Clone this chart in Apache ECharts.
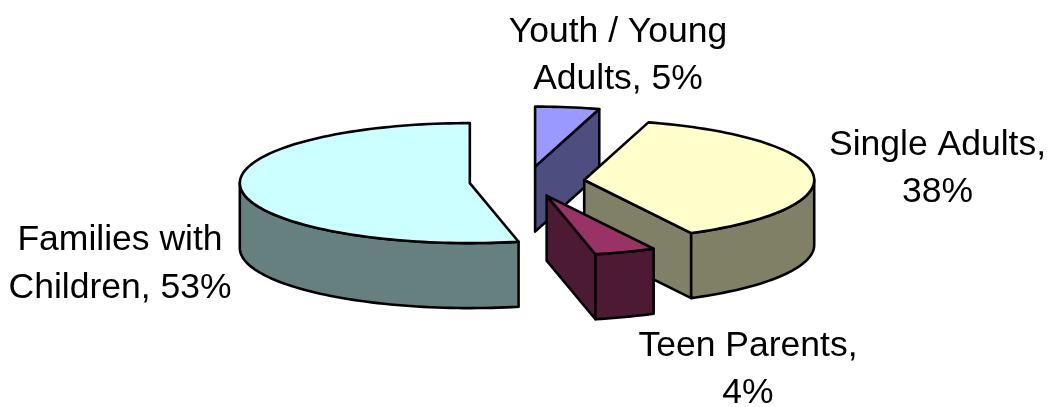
<!DOCTYPE html>
<html>
<head>
<meta charset="utf-8">
<style>html,body{margin:0;padding:0;background:#fff}#chart{width:1053px;height:407px}</style>
<script src="https://cdn.jsdelivr.net/npm/echarts@6/dist/echarts.min.js"></script>
</head>
<body>
<div id="chart"></div>
<script>
// Data, clockwise from 12 o'clock
var categories = ['Youth / Young Adults', 'Single Adults', 'Teen Parents', 'Families with Children'];
var values = [4.5, 37.8, 4.3, 53.4];
var sliceLabels = ['Youth / Young\nAdults, 5%', 'Single Adults,\n38%', 'Teen Parents,\n4%', 'Families with\nChildren, 53%'];
var topColors = ['#9999FF', '#FFFFCC', '#993366', '#CCFFFF'];
var sideColors = ['#4D4D80', '#808066', '#4D1A33', '#668080'];

// Layout of the projected pie
var CX = 527, CY = 181.5, RX = 230, RY = 60, DEPTH = 65, EXPLODE = 0.25;
var labelAnchors = [[618, 55.5], [937.5, 168.5], [748, 369.5], [120, 264]];
var LINE = 47.5, FONT_SIZE = 35.5;
var total = values.reduce(function (a, b) { return a + b; }, 0);

function sliceAngles(i) {
  var sum = 0;
  for (var k = 0; k < i; k++) sum += values[k];
  return [sum / total * 2 * Math.PI, (sum + values[i]) / total * 2 * Math.PI];
}
function rimPoint(apex, a, dz) {
  return [apex[0] + RX * Math.sin(a), apex[1] - RY * Math.cos(a) + (dz || 0)];
}
function arcPoints(apex, a0, a1, dz) {
  var n = Math.max(2, Math.ceil((a1 - a0) / 0.03)), pts = [];
  for (var k = 0; k <= n; k++) pts.push(rimPoint(apex, a0 + (a1 - a0) * k / n, dz));
  return pts;
}
function face(points, fill, z2) {
  return {
    type: 'polygon', z2: z2,
    shape: { points: points },
    style: { fill: fill, stroke: '#000', lineWidth: 2.6, lineJoin: 'round' }
  };
}
function renderSlice(params, api) {
  var i = params.dataIndex;
  var ang = sliceAngles(i), a0 = ang[0], a1 = ang[1], mid = (a0 + a1) / 2;
  var apex = [CX + EXPLODE * RX * Math.sin(mid), CY - EXPLODE * RY * Math.cos(mid)];
  var z = Math.round(apex[1]) * 10;
  var children = [];
  // clockwise-end cut face, visible when it turns to the viewer
  if (Math.sin(a1) > 0.01) {
    var e = rimPoint(apex, a1);
    children.push(face([apex, e, [e[0], e[1] + DEPTH], [apex[0], apex[1] + DEPTH]], sideColors[i], z++));
  }
  // clockwise-start cut face
  if (Math.sin(a0) < -0.01) {
    var s = rimPoint(apex, a0);
    children.push(face([apex, s, [s[0], s[1] + DEPTH], [apex[0], apex[1] + DEPTH]], sideColors[i], z++));
  }
  // outer wall: the part of the rim facing the viewer
  var w0 = Math.max(a0, Math.PI / 2), w1 = Math.min(a1, 3 * Math.PI / 2);
  if (w1 > w0) {
    var upper = arcPoints(apex, w0, w1, 0);
    var lower = arcPoints(apex, w0, w1, DEPTH).reverse();
    children.push(face(upper.concat(lower), sideColors[i], z++));
  }
  // top face
  children.push(face([apex].concat(arcPoints(apex, a0, a1, 0)), topColors[i], z++));
  // label
  children.push({
    type: 'text', z2: 9000,
    style: {
      text: sliceLabels[i],
      x: labelAnchors[i][0], y: labelAnchors[i][1],
      align: 'center', verticalAlign: 'middle',
      lineHeight: LINE,
      fontFamily: '"Liberation Sans", Arial, sans-serif',
      fontSize: FONT_SIZE, fill: '#000'
    }
  });
  return { type: 'group', children: children };
}

var chart = echarts.init(document.getElementById('chart'), null, { renderer: 'canvas' });
chart.setOption({
  animation: false,
  backgroundColor: '#fff',
  series: [{
    type: 'custom',
    coordinateSystem: 'none',
    silent: true,
    renderItem: renderSlice,
    data: values.map(function (v, i) { return { name: categories[i], value: [v] }; })
  }]
});
</script>
</body>
</html>
